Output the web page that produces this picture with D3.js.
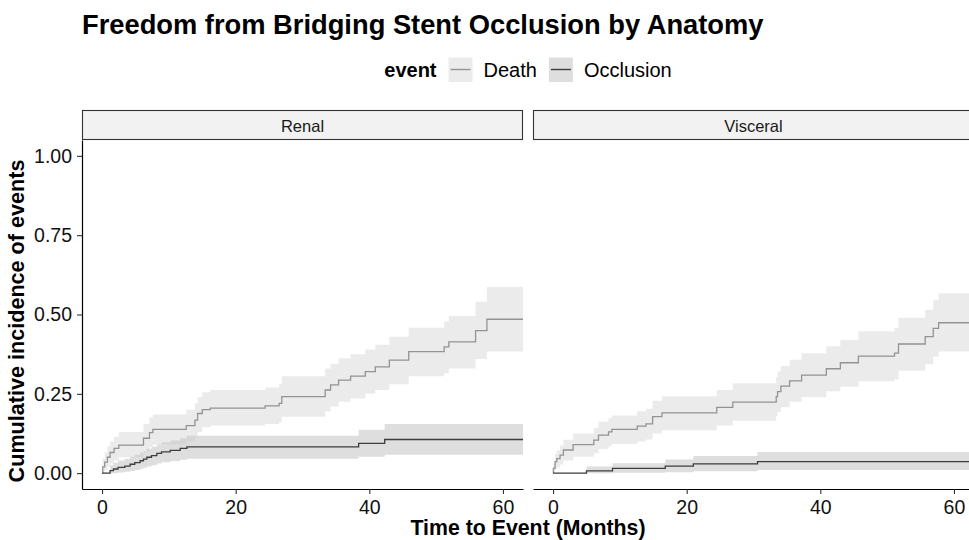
<!DOCTYPE html>
<html>
<head>
<meta charset="utf-8">
<script src="https://cdn.jsdelivr.net/npm/d3@7"></script>
<style>
  body { margin: 0; background: #fff; }
  svg { display: block; font-family: "Liberation Sans", Arial, Helvetica, sans-serif; }
</style>
</head>
<body>
<svg id="chart" width="969" height="540"></svg>
<script>
// values
const panels = ['Renal', 'Visceral'];
const events = ['Death', 'Occlusion'];
const xTicks = [0, 20, 40, 60];
const yTicks = [0, 0.25, 0.5, 0.75, 1];
const followUpEnd = [66, 66];

const renalDeathTime  = [0, 0.1, 0.4, 0.8, 1.2, 1.8, 2.5, 6.2, 7.1, 7.6, 12.6, 13.9, 14.3, 15.0, 16.2, 24.4, 26.5, 26.9, 33.4, 34.2, 35.4, 37.2, 39.4, 40.9, 43.0, 45.9, 51.2, 51.9, 55.9, 57.6];
const renalDeathCif   = [0, 0.02, 0.035, 0.05, 0.065, 0.078, 0.088, 0.11, 0.128, 0.138, 0.15, 0.167, 0.188, 0.2, 0.205, 0.212, 0.22, 0.241, 0.262, 0.278, 0.293, 0.306, 0.32, 0.335, 0.356, 0.383, 0.398, 0.414, 0.449, 0.485];
const renalDeathLower = [0, 0, 0.01, 0.02, 0.03, 0.04, 0.05, 0.068, 0.082, 0.09, 0.1, 0.115, 0.13, 0.145, 0.15, 0.155, 0.16, 0.178, 0.195, 0.21, 0.225, 0.235, 0.25, 0.262, 0.28, 0.305, 0.315, 0.33, 0.36, 0.383];
const renalDeathUpper = [0, 0.045, 0.065, 0.085, 0.1, 0.115, 0.13, 0.155, 0.175, 0.185, 0.2, 0.22, 0.24, 0.255, 0.262, 0.27, 0.28, 0.305, 0.33, 0.345, 0.362, 0.375, 0.39, 0.405, 0.43, 0.458, 0.478, 0.495, 0.54, 0.587];

const renalOcclTime  = [0, 1.2, 1.7, 2.4, 3.4, 4.2, 4.9, 5.7, 6.2, 6.7, 7.4, 8.2, 8.9, 10.2, 11.7, 12.7, 38.4, 42.3];
const renalOcclCif   = [0, 0.008, 0.013, 0.018, 0.022, 0.028, 0.033, 0.039, 0.044, 0.05, 0.055, 0.062, 0.067, 0.072, 0.078, 0.083, 0.094, 0.106];
const renalOcclLower = [0, 0, 0, 0.002, 0.004, 0.007, 0.01, 0.014, 0.017, 0.021, 0.025, 0.03, 0.034, 0.038, 0.042, 0.045, 0.052, 0.058];
const renalOcclUpper = [0, 0.025, 0.033, 0.04, 0.045, 0.052, 0.058, 0.065, 0.07, 0.077, 0.083, 0.09, 0.097, 0.103, 0.11, 0.118, 0.137, 0.155];

const viscDeathTime  = [0, 0.05, 0.3, 0.55, 1.05, 1.55, 3.0, 6.1, 6.8, 8.3, 8.8, 12.6, 13.9, 14.9, 16.3, 24.5, 26.9, 33.4, 33.6, 34.1, 35.4, 37.2, 40.9, 43.0, 45.7, 51.1, 51.7, 55.7, 56.9, 57.7];
const viscDeathCif   = [0, 0.015, 0.036, 0.046, 0.057, 0.073, 0.09, 0.104, 0.12, 0.13, 0.138, 0.148, 0.155, 0.178, 0.19, 0.207, 0.224, 0.241, 0.257, 0.274, 0.291, 0.309, 0.329, 0.348, 0.369, 0.378, 0.407, 0.43, 0.456, 0.474];
const viscDeathLower = [0, 0, 0.012, 0.018, 0.027, 0.04, 0.052, 0.063, 0.076, 0.085, 0.092, 0.1, 0.106, 0.125, 0.135, 0.15, 0.165, 0.18, 0.193, 0.208, 0.225, 0.24, 0.258, 0.272, 0.29, 0.296, 0.323, 0.343, 0.367, 0.383];
const viscDeathUpper = [0, 0.03, 0.06, 0.072, 0.087, 0.105, 0.125, 0.142, 0.162, 0.173, 0.182, 0.195, 0.203, 0.228, 0.242, 0.262, 0.283, 0.302, 0.32, 0.338, 0.357, 0.378, 0.4, 0.42, 0.447, 0.458, 0.49, 0.515, 0.545, 0.567];

const viscOcclTime  = [0, 5.0, 8.9, 16.8, 21.0, 30.6];
const viscOcclCif   = [0, 0.007, 0.015, 0.022, 0.029, 0.036];
const viscOcclLower = [0, 0, 0.001, 0.003, 0.006, 0.01];
const viscOcclUpper = [0, 0.021, 0.031, 0.043, 0.054, 0.067];

const lineColor = { Death: '#939393', Occlusion: '#3d3d3d' };
const bandColor = { Death: '#ebebeb', Occlusion: '#c8c8c8' };
const bandOpacity = { Death: 1, Occlusion: 0.6 };

function makeSeries(time, cif, lower, upper, end) {
  const rows = time.map((t, i) => ({ t, v: cif[i], lo: lower[i], hi: upper[i] }));
  const last = rows[rows.length - 1];
  rows.push({ t: end, v: last.v, lo: last.lo, hi: last.hi });
  return rows;
}

const series = {
  Renal: {
    Death: makeSeries(renalDeathTime, renalDeathCif, renalDeathLower, renalDeathUpper, followUpEnd[0]),
    Occlusion: makeSeries(renalOcclTime, renalOcclCif, renalOcclLower, renalOcclUpper, followUpEnd[0])
  },
  Visceral: {
    Death: makeSeries(viscDeathTime, viscDeathCif, viscDeathLower, viscDeathUpper, followUpEnd[1]),
    Occlusion: makeSeries(viscOcclTime, viscOcclCif, viscOcclLower, viscOcclUpper, followUpEnd[1])
  }
};

// layout
const panelW = 441, panelH = 349, panelTop = 140, stripH = 30;
const panelLeft = [82, 533];

const svg = d3.select('#chart');

const x = d3.scaleLinear().domain([-3, 63]).range([0, panelW]);
const y = d3.scaleLinear().domain([-0.05, 1.05]).range([panelH, 0]);

const line = d3.line().x(d => x(d.t)).y(d => y(d.v)).curve(d3.curveStepAfter);
const band = d3.area().x(d => x(d.t)).y0(d => y(d.lo)).y1(d => y(d.hi)).curve(d3.curveStepAfter);

// title
svg.append('text')
  .attr('x', 82).attr('y', 34)
  .attr('font-size', 27.3).attr('font-weight', 'bold').attr('fill', '#000')
  .text('Freedom from Bridging Stent Occlusion by Anatomy');

panels.forEach((name, i) => {
  const g = svg.append('g').attr('transform', `translate(${panelLeft[i]},${panelTop})`);

  g.append('clipPath').attr('id', `clip-${i}`)
    .append('rect').attr('width', panelW).attr('height', panelH);

  const plot = g.append('g').attr('clip-path', `url(#clip-${i})`);

  events.forEach(ev => {
    plot.append('path')
      .attr('d', band(series[name][ev]))
      .attr('fill', bandColor[ev])
      .attr('fill-opacity', bandOpacity[ev]);
  });
  events.forEach(ev => {
    plot.append('path')
      .attr('d', line(series[name][ev]))
      .attr('fill', 'none')
      .attr('stroke', lineColor[ev])
      .attr('stroke-width', 1.3);
  });

  // strip
  const strip = svg.append('g').attr('transform', `translate(${panelLeft[i]},${panelTop - stripH})`);
  strip.append('rect')
    .attr('x', 0.5).attr('y', 0.5)
    .attr('width', panelW - 1).attr('height', stripH - 1)
    .attr('fill', '#f2f2f2').attr('stroke', '#333').attr('stroke-width', 1.1);
  strip.append('text')
    .attr('x', panelW / 2).attr('y', 21.7)
    .attr('text-anchor', 'middle').attr('font-size', 16.5).attr('fill', '#1a1a1a')
    .text(name);

  // x axis
  const xAxis = g.append('g')
    .attr('transform', `translate(0,${panelH})`)
    .call(d3.axisBottom(x).tickValues(xTicks).tickSize(5).tickSizeOuter(0).tickPadding(6));
  xAxis.select('.domain').attr('stroke', '#000').attr('stroke-width', 1.2);
  xAxis.selectAll('.tick line').attr('stroke', '#333').attr('stroke-width', 1.1);
  xAxis.selectAll('.tick text').attr('font-size', 19.5).attr('fill', '#111')
    .attr('font-family', '"Liberation Sans", Arial, sans-serif');

  if (i === 0) {
    const yAxis = g.append('g')
      .call(d3.axisLeft(y).tickValues(yTicks).tickFormat(d3.format('.2f')).tickSize(5).tickSizeOuter(0).tickPadding(5));
    yAxis.select('.domain').attr('stroke', '#000').attr('stroke-width', 1.2);
    yAxis.selectAll('.tick line').attr('stroke', '#333').attr('stroke-width', 1.1);
    yAxis.selectAll('.tick text').attr('font-size', 19.5).attr('fill', '#111')
      .attr('font-family', '"Liberation Sans", Arial, sans-serif');
  }
});

// axis titles
svg.append('text')
  .attr('x', (panelLeft[0] + panelLeft[1] + panelW) / 2).attr('y', 535)
  .attr('text-anchor', 'middle').attr('font-size', 21.3).attr('font-weight', 'bold')
  .text('Time to Event (Months)');

svg.append('text')
  .attr('transform', 'translate(24,321) rotate(-90)')
  .attr('text-anchor', 'middle').attr('font-size', 21.6).attr('font-weight', 'bold')
  .text('Cumulative incidence of events');

// legend, centred over the panels
const legend = svg.append('g');
const legendCx = (panelLeft[0] + panelLeft[1] + panelW) / 2;
let lx = 0;
const baseY = 77.3;
const title = legend.append('text')
  .attr('x', lx).attr('y', baseY)
  .attr('font-size', 20).attr('font-weight', 'bold').text('event');
lx += title.node().getComputedTextLength() + 12;

events.forEach((ev, k) => {
  legend.append('rect')
    .attr('x', lx).attr('y', 57.5).attr('width', 24).attr('height', 24.5)
    .attr('fill', bandColor[ev]).attr('fill-opacity', bandOpacity[ev]);
  legend.append('line')
    .attr('x1', lx + 2).attr('x2', lx + 22).attr('y1', 69.5).attr('y2', 69.5)
    .attr('stroke', lineColor[ev]).attr('stroke-width', 1.4);
  lx += 24 + 11;
  const lab = legend.append('text')
    .attr('x', lx).attr('y', baseY)
    .attr('font-size', 20).text(ev);
  lx += lab.node().getComputedTextLength() + (k < events.length - 1 ? 12 : 0);
});
legend.attr('transform', `translate(${legendCx - lx / 2},0)`);
</script>
</body>
</html>
